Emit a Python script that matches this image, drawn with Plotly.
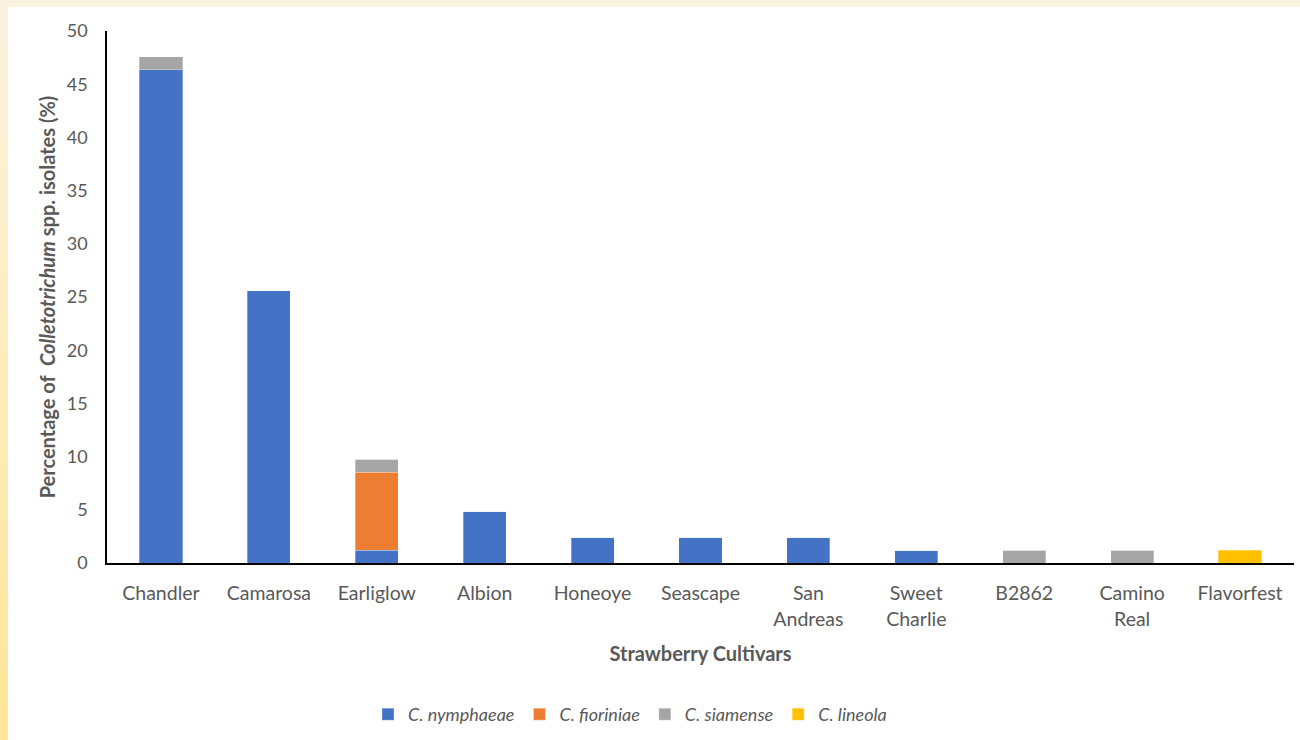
import plotly.graph_objects as go

# Cultivars and share of Colletotrichum isolates per species (%)
cultivars = ["Chandler", "Camarosa", "Earliglow", "Albion", "Honeoye", "Seascape",
             "San<br>Andreas", "Sweet<br>Charlie", "B2862", "Camino<br>Real", "Flavorfest"]
c_nymphaeae = [46.34, 25.61, 1.22, 4.88, 2.44, 2.44, 2.44, 1.22, 0, 0, 0]
c_fioriniae = [0, 0, 7.32, 0, 0, 0, 0, 0, 0, 0, 0]
c_siamense = [1.22, 0, 1.22, 0, 0, 0, 0, 0, 1.22, 1.22, 0]
c_lineola = [0, 0, 0, 0, 0, 0, 0, 0, 0, 0, 1.22]

series = [
    ("<i>C. nymphaeae</i>", c_nymphaeae, "#4472C4"),
    ("<i>C. fioriniae</i>", c_fioriniae, "#ED7D31"),
    ("<i>C. siamense</i>", c_siamense, "#A5A5A5"),
    ("<i>C. lineola</i>", c_lineola, "#FFC000"),
]

FONT = "Lato, 'Open Sans', sans-serif"

fig = go.Figure()
for name, vals, color in series:
    fig.add_trace(go.Bar(
        x=cultivars, y=vals, name=name, width=0.4,
        marker=dict(color=color, line=dict(color="rgba(255,255,255,0.6)", width=0.5)),
    ))

# page geometry (pixels)
W, H = 1300, 740
L, R, T, B = 107, 6, 31, 177
pw, ph = W - L - R, H - T - B


def px_x(p):
    return (p - L) / pw


def px_y(p):
    return (H - B - p) / ph


shapes = []
# top strip
shapes.append(dict(type="rect", xref="paper", yref="paper", layer="below",
                   x0=px_x(0), x1=px_x(W), y0=px_y(7), y1=px_y(0),
                   fillcolor="#FAF2DE", line=dict(width=0)))
# left strip with a vertical gradient
n = 40
c0 = (0xFA, 0xF2, 0xDE)
c1 = (0xFF, 0xE6, 0x99)
for i in range(n):
    t = i / (n - 1)
    c = tuple(round(a + (b - a) * t) for a, b in zip(c0, c1))
    y0 = H * i / n
    y1 = H * (i + 1) / n
    shapes.append(dict(type="rect", xref="paper", yref="paper", layer="below",
                       x0=px_x(0), x1=px_x(8), y0=px_y(y1 + 0.5), y1=px_y(y0),
                       fillcolor="rgb(%d,%d,%d)" % c, line=dict(width=0)))

fig.update_layout(
    barmode="stack",
    width=W, height=H,
    margin=dict(l=L, r=R, t=T, b=B, pad=0),
    paper_bgcolor="white", plot_bgcolor="white",
    font=dict(family=FONT, color="#595959", size=18),
    shapes=shapes,
    showlegend=True,
    legend=dict(orientation="h", x=px_x(630), xanchor="center", y=px_y(696), yanchor="top",
                font=dict(size=18, color="#595959"), traceorder="normal",
                itemwidth=30, tracegroupgap=0),
    xaxis=dict(
        showline=True, linecolor="black", linewidth=2, ticks="", showgrid=False,
        tickfont=dict(size=19.5, color="#595959"), ticklabelstandoff=12,
        title=dict(text="<b>Strawberry Cultivars</b>", font=dict(size=20, color="#595959"),
                   standoff=18),
    ),
    yaxis=dict(
        range=[0, 50], dtick=5, showline=True, linecolor="black", linewidth=1.5,
        ticks="", showgrid=False, zeroline=False,
        tickfont=dict(size=18, color="#595959"), ticklabelstandoff=14,
        title=dict(text="<b>Percentage of  <i>Colletotrichum</i> spp. isolates (%)</b>",
                   font=dict(size=20, color="#595959"), standoff=6),
    ),
)

fig.write_html("out.html")
